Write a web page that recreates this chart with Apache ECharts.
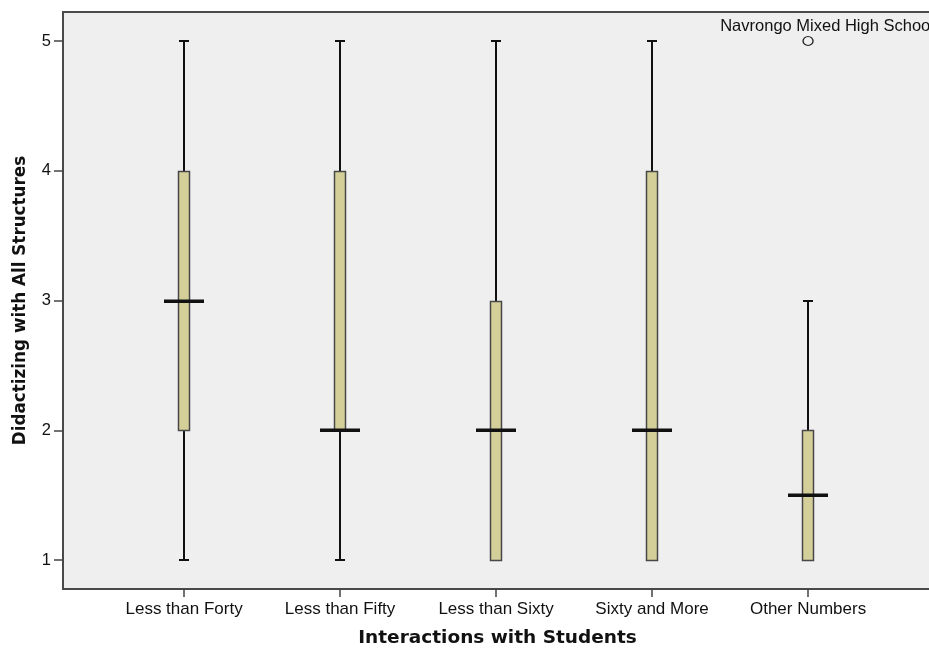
<!DOCTYPE html>
<html>
<head>
<meta charset="utf-8">
<script src="https://cdn.jsdelivr.net/npm/echarts@6/dist/echarts.min.js"></script>
<style>
  html, body { margin: 0; padding: 0; background: #ffffff; }
  #chart { width: 929px; height: 648px; }
</style>
</head>
<body>
<div id="chart"></div>
<script>
// Box plot: Didactizing with All Structures by Interactions with Students
const categories = ['Less than Forty', 'Less than Fifty', 'Less than Sixty', 'Sixty and More', 'Other Numbers'];
const lowWhisker = [1, 1, 1, 1, 1];
const lowerQuartile = [2, 2, 1, 1, 1];
const medians = [3, 2, 2, 2, 1.5];
const upperQuartile = [4, 4, 3, 4, 2];
const highWhisker = [5, 5, 5, 5, 3];
const outlierCategory = [4];
const outlierValue = [5];
const outlierNames = ['Navrongo Mixed High School'];
const yTicks = [1, 2, 3, 4, 5];

const boxData = categories.map((c, i) => [i, lowWhisker[i], lowerQuartile[i], medians[i], upperQuartile[i], highWhisker[i]]);
const outlierData = outlierCategory.map((c, i) => ({ value: [c, outlierValue[i]], name: outlierNames[i] }));

const BOX_W = 11, CAP_W = 10, MED_W = 40;
const INK = '#111111';

// Filled bar helper: horizontal or vertical stroke drawn as a rectangle
function bar(x, y, w, h) {
  return { type: 'rect', shape: { x, y, width: w, height: h }, style: { fill: INK, stroke: null } };
}

function renderBox(params, api) {
  const x = api.value(0);
  const cx = Math.round(api.coord([x, 0])[0]);
  const yOf = v => Math.round(api.coord([x, v])[1]);
  const yLow = yOf(api.value(1));
  const yQ1 = yOf(api.value(2));
  const yMed = yOf(api.value(3));
  const yQ3 = yOf(api.value(4));
  const yHigh = yOf(api.value(5));
  const children = [];
  // whiskers
  if (yHigh < yQ3) children.push(bar(cx - 1, yHigh, 2, yQ3 - yHigh));
  if (yLow > yQ1) children.push(bar(cx - 1, yQ1, 2, yLow - yQ1));
  // caps
  children.push(bar(cx - CAP_W / 2, yHigh - 1, CAP_W, 2));
  children.push(bar(cx - CAP_W / 2, yLow - 1, CAP_W, 2));
  // box
  children.push({
    type: 'rect',
    shape: { x: cx - BOX_W / 2, y: yQ3 + 0.5, width: BOX_W, height: yQ1 - yQ3 },
    style: { fill: '#d4cf98', stroke: '#474747', lineWidth: 1.5 }
  });
  // median
  children.push(bar(cx - MED_W / 2, yMed - 1.5, MED_W, 3.5));
  return { type: 'group', children };
}

const chart = echarts.init(document.getElementById('chart'), null, { renderer: 'canvas' });
chart.setOption({
  animation: false,
  backgroundColor: '#ffffff',
  grid: {
    left: 63, right: -3, top: 12, bottom: 59,
    outerBoundsMode: 'none',
    containLabel: false,
    show: true, backgroundColor: '#efefef', borderColor: '#4a4a4a', borderWidth: 2
  },
  xAxis: {
    type: 'value',
    min: -0.776,
    max: -0.776 + 869 / 156,
    name: 'Interactions with Students',
    nameLocation: 'middle',
    nameGap: 40,
    nameTextStyle: { fontFamily: 'DejaVu Sans', fontWeight: 'bold', fontSize: 18.5, color: '#111' },
    axisLine: { show: false, onZero: false },
    axisTick: { show: true, length: 8, customValues: [0, 1, 2, 3, 4], lineStyle: { color: '#444', width: 1.5 } },
    axisLabel: {
      customValues: [0, 1, 2, 3, 4],
      formatter: v => categories[Math.round(v)] || '',
      fontFamily: 'Liberation Sans', fontSize: 17, color: '#111', margin: 12
    },
    splitLine: { show: false }
  },
  yAxis: {
    type: 'value',
    min: 0.7765,
    max: 5.2235,
    name: 'Didactizing with All Structures',
    nameLocation: 'middle',
    nameRotate: 90,
    nameGap: 34,
    nameTextStyle: { fontFamily: 'DejaVu Sans', fontWeight: 'bold', fontSize: 16.8, color: '#111' },
    axisLine: { show: false, onZero: false },
    axisTick: { show: true, length: 9, customValues: yTicks, lineStyle: { color: '#444', width: 1.5 } },
    axisLabel: {
      customValues: yTicks,
      fontFamily: 'Liberation Sans', fontSize: 16.5, color: '#111', margin: 12
    },
    splitLine: { show: false }
  },
  series: [
    {
      type: 'custom',
      renderItem: renderBox,
      encode: { x: 0, y: [1, 2, 3, 4, 5] },
      data: boxData,
      clip: false,
      silent: true
    },
    {
      type: 'scatter',
      data: outlierData,
      symbol: 'circle',
      symbolSize: [10, 9],
      itemStyle: { color: '#efefef', borderColor: '#222', borderWidth: 1.3, opacity: 1 },
      label: {
        show: true,
        position: 'top',
        distance: 1,
        offset: [19, 0],
        formatter: p => p.name,
        fontFamily: 'Liberation Sans', fontSize: 16.5, color: '#111'
      },
      silent: true
    }
  ]
});
</script>
</body>
</html>
